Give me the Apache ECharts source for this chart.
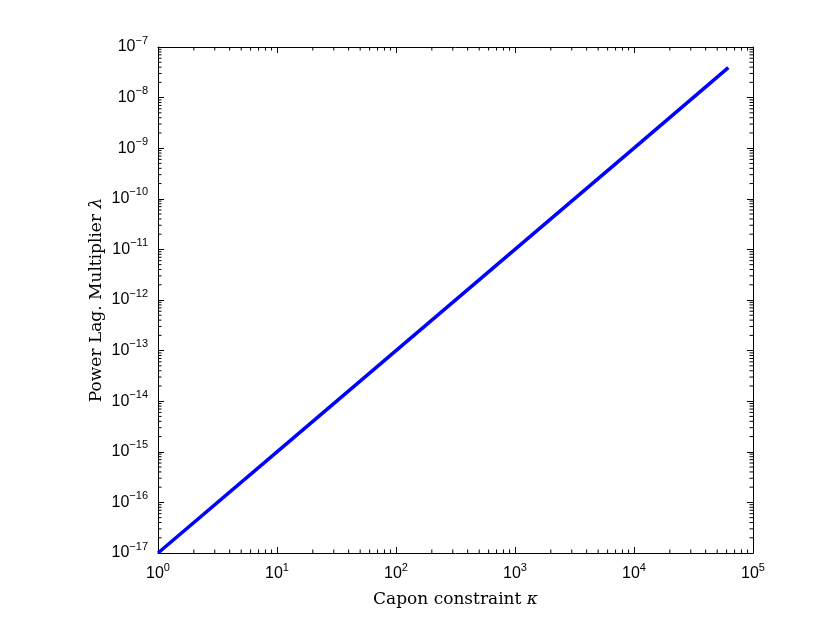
<!DOCTYPE html>
<html>
<head>
<meta charset="utf-8">
<script src="https://cdn.jsdelivr.net/npm/echarts@6/dist/echarts.min.js"></script>
<style>html,body{margin:0;padding:0;background:#fff}#c{width:830px;height:623px}</style>
</head>
<body>
<div id="c"></div>
<script>
// Data (log-log straight line)
const kappa  = [1, 10, 100, 1000, 10000, 62000];
const lambda = [1e-17, 1e-15, 1e-13, 1e-11, 1e-9, 3.9e-8];
// Axis ranges / tick exponents
const xTickExp = [0, 1, 2, 3, 4, 5];
const yTickExp = [-17, -16, -15, -14, -13, -12, -11, -10, -9, -8, -7];
const minorMult = [2, 3, 4, 5, 6, 7, 8, 9];

const xMin = 1, xMax = 1e5, yMin = 1e-17, yMax = 1e-7;

const xMinor = [];
xTickExp.slice(0, -1).forEach(e => minorMult.forEach(m => xMinor.push([m * Math.pow(10, e), yMin])));
const yMinor = [];
yTickExp.slice(0, -1).forEach(e => minorMult.forEach(m => yMinor.push([xMin, m * Math.pow(10, e)])));

const LBL_FONT = "'Liberation Sans', Arial, sans-serif";
const TTL_FONT = "'DejaVu Serif', 'Liberation Serif', serif";

function supLabel(v) {
  const e = Math.round(Math.log10(v));
  const s = (e < 0 ? '\u2212' + (-e) : String(e));
  return '{b|10}{s|' + s + '}';
}
const labelRich = {
  b: { fontFamily: LBL_FONT, fontSize: 16, color: '#000', lineHeight: 24, verticalAlign: 'middle' },
  s: { fontFamily: LBL_FONT, fontSize: 11, color: '#000', lineHeight: 24, verticalAlign: 'top' }
};
const blackLine = { color: '#000', width: 1 };
const titleStyle = { fontFamily: TTL_FONT, fontSize: 17, color: '#000',
  rich: { i: { fontFamily: TTL_FONT, fontSize: 17, fontStyle: 'italic', color: '#000' } } };

const chart = echarts.init(document.getElementById('c'), null, { renderer: 'canvas' });
const opt = {
  animation: false,
  backgroundColor: '#fff',
  grid: { left: 158, right: 77, top: 47, bottom: 70, containLabel: false },
  xAxis: [
    {
      type: 'log', logBase: 10, min: xMin, max: xMax, interval: 1, splitNumber: 5,
      position: 'bottom',
      name: 'Capon constraint {i|\u03ba}', nameLocation: 'middle', nameGap: 38, nameMoveOverlap: false,
      nameTextStyle: titleStyle,
      axisLine: { show: true, onZero: false, lineStyle: blackLine },
      axisTick: { show: true, inside: true, length: 6, lineStyle: blackLine },
      minorTick: { show: false },
      splitLine: { show: false },
      axisLabel: { show: true, margin: 9, formatter: supLabel, rich: labelRich }
    },
    {
      type: 'log', logBase: 10, min: xMin, max: xMax, interval: 1, splitNumber: 5,
      position: 'top',
      axisLine: { show: true, onZero: false, lineStyle: blackLine },
      axisTick: { show: true, inside: true, length: 6, lineStyle: blackLine },
      splitLine: { show: false },
      axisLabel: { show: false }
    }
  ],
  yAxis: [
    {
      type: 'log', logBase: 10, min: yMin, max: yMax, interval: 1, splitNumber: 10,
      position: 'left',
      name: 'Power Lag. Multiplier {i|\u03bb}', nameLocation: 'middle', nameGap: 53, nameMoveOverlap: false,
      nameTextStyle: titleStyle,
      axisLine: { show: true, onZero: false, lineStyle: blackLine },
      axisTick: { show: true, inside: true, length: 6, lineStyle: blackLine },
      splitLine: { show: false },
      axisLabel: { show: true, margin: 10, formatter: supLabel, rich: labelRich }
    },
    {
      type: 'log', logBase: 10, min: yMin, max: yMax, interval: 1, splitNumber: 10,
      position: 'right',
      axisLine: { show: true, onZero: false, lineStyle: blackLine },
      axisTick: { show: true, inside: true, length: 6, lineStyle: blackLine },
      splitLine: { show: false },
      axisLabel: { show: false }
    }
  ],
  series: [
    {
      type: 'line', xAxisIndex: 0, yAxisIndex: 0,
      data: kappa.map((k, i) => [k, lambda[i]]),
      showSymbol: false, symbol: 'none',
      lineStyle: { color: '#0000ff', width: 3.5, cap: 'butt' },
      z: 3
    },
    {
      type: 'custom', xAxisIndex: 0, yAxisIndex: 0, silent: true, clip: false,
      data: xMinor,
      renderItem: function (params, api) {
        const v = api.value(0);
        const b = api.coord([v, yMin]);
        const t = api.coord([v, yMax]);
        return { type: 'group', children: [
          { type: 'line', shape: { x1: b[0], y1: b[1], x2: b[0], y2: b[1] - 3.5 }, style: { stroke: '#000', lineWidth: 1 } },
          { type: 'line', shape: { x1: t[0], y1: t[1], x2: t[0], y2: t[1] + 3.5 }, style: { stroke: '#000', lineWidth: 1 } }
        ] };
      },
      z: 4
    },
    {
      type: 'custom', xAxisIndex: 0, yAxisIndex: 0, silent: true, clip: false,
      data: yMinor,
      renderItem: function (params, api) {
        const v = api.value(1);
        const l = api.coord([xMin, v]);
        const r = api.coord([xMax, v]);
        return { type: 'group', children: [
          { type: 'line', shape: { x1: l[0], y1: l[1], x2: l[0] + 3.5, y2: l[1] }, style: { stroke: '#000', lineWidth: 1 } },
          { type: 'line', shape: { x1: r[0], y1: r[1], x2: r[0] - 3.5, y2: r[1] }, style: { stroke: '#000', lineWidth: 1 } }
        ] };
      },
      z: 4
    }
  ]
};
chart.setOption(opt);
</script>
</body>
</html>
